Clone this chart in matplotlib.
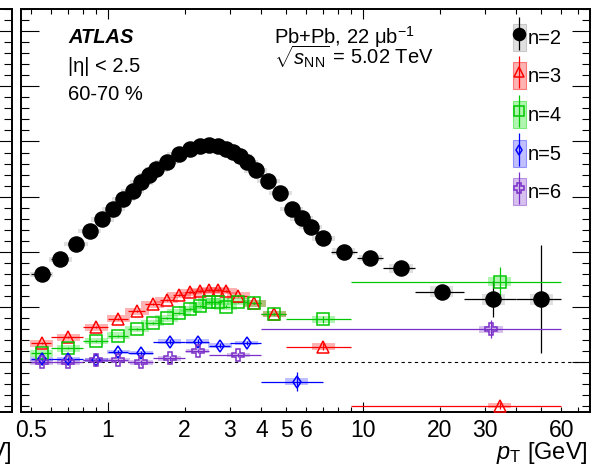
import matplotlib.pyplot as plt
import numpy as np
from matplotlib.container import ErrorbarContainer
from matplotlib.legend_handler import HandlerErrorbar
from matplotlib.patches import Patch
from matplotlib.colors import to_rgba
from matplotlib.ticker import MultipleLocator

plt.rcParams['font.family'] = ['Liberation Sans', 'DejaVu Sans']
plt.rcParams['mathtext.fontset'] = 'custom'
plt.rcParams['mathtext.rm'] = 'Liberation Sans'
plt.rcParams['mathtext.it'] = 'Liberation Sans:italic'
plt.rcParams['mathtext.bf'] = 'Liberation Sans:bold'

# ---------------------------------------------------------------- data
# n=2
v2_pt = [0.55, 0.65, 0.75, 0.85, 0.95, 1.05, 1.15, 1.25, 1.35, 1.45, 1.55, 1.7, 1.9,
         2.1, 2.3, 2.5, 2.7, 2.9, 3.1, 3.3, 3.5, 3.8, 4.25, 4.75, 5.25, 5.75, 6.25,
         7.0, 8.4, 10.7, 14.1, 20.4, 32.4, 50.0]
v2_lo = [0.5, 0.6, 0.7, 0.8, 0.9, 1.0, 1.1, 1.2, 1.3, 1.4, 1.5, 1.6, 1.8,
         2.0, 2.2, 2.4, 2.6, 2.8, 3.0, 3.2, 3.4, 3.6, 4.0, 4.5, 5.0, 5.5, 6.0,
         6.5, 7.5, 9.5, 12.0, 16.0, 25.0, 40.0]
v2_hi = [0.6, 0.7, 0.8, 0.9, 1.0, 1.1, 1.2, 1.3, 1.4, 1.5, 1.6, 1.8, 2.0,
         2.2, 2.4, 2.6, 2.8, 3.0, 3.2, 3.4, 3.6, 4.0, 4.5, 5.0, 5.5, 6.0, 6.5,
         7.5, 9.5, 12.0, 16.0, 25.0, 40.0, 60.0]
v2 = [0.0796, 0.0933, 0.1069, 0.1187, 0.1295, 0.1391, 0.1479, 0.1554, 0.1630, 0.1694,
      0.1748, 0.1814, 0.1884, 0.1932, 0.1962, 0.1971, 0.1959, 0.1932, 0.1905, 0.1871,
      0.1814, 0.1739, 0.1642, 0.1531, 0.1386, 0.1304, 0.1223, 0.1123, 0.1002, 0.0945,
      0.0851, 0.0639, 0.0573, 0.0573]
v2_stat = [0.0005] * 28 + [0.001, 0.002, 0.003, 0.004, 0.016, 0.049]
v2_sys = [0.002] * 28 + [0.003, 0.003, 0.004, 0.005, 0.005, 0.005]

# n=3 and n=4 share bins
v34_pt = [0.55, 0.7, 0.9, 1.1, 1.3, 1.5, 1.7, 1.9, 2.1, 2.3, 2.5, 2.7, 2.9, 3.25, 3.75, 4.5, 7.0, 34.4]
v34_lo = [0.5, 0.6, 0.8, 1.0, 1.2, 1.4, 1.6, 1.8, 2.0, 2.2, 2.4, 2.6, 2.8, 3.0, 3.5, 4.0, 5.0, 9.0]
v34_hi = [0.6, 0.8, 1.0, 1.2, 1.4, 1.6, 1.8, 2.0, 2.2, 2.4, 2.6, 2.8, 3.0, 3.5, 4.0, 5.0, 9.0, 60.0]
v3 = [0.0172, 0.0226, 0.0317, 0.0395, 0.0462, 0.0525, 0.0564, 0.0610, 0.0634, 0.0646,
      0.0655, 0.0655, 0.0646, 0.0603, 0.0534, 0.0438, 0.0141, -0.0393]
v3_stat = [0.001] * 16 + [0.003, 0.003]
v3_sys = [0.003] * 16 + [0.003, 0.002]
v4 = [0.0082, 0.0127, 0.0193, 0.0241, 0.0302, 0.0356, 0.0399, 0.0449, 0.0483, 0.0513,
      0.0549, 0.0549, 0.0505, 0.0549, 0.0534, 0.0438, 0.0390, 0.0730]
v4_stat = [0.001] * 16 + [0.003, 0.0136]
v4_sys = [0.003] * 16 + [0.003, 0.004]

# n=5
v5_pt = [0.55, 0.7, 0.9, 1.1, 1.35, 1.75, 2.25, 2.75, 3.5, 5.5]
v5_lo = [0.5, 0.6, 0.8, 1.0, 1.2, 1.5, 2.0, 2.5, 3.0, 4.0]
v5_hi = [0.6, 0.8, 1.0, 1.2, 1.5, 2.0, 2.5, 3.0, 4.0, 7.0]
v5 = [0.0030, 0.0030, 0.0020, 0.0096, 0.0082, 0.0187, 0.0187, 0.0152, 0.0175, -0.0176]
v5_stat = [0.002] * 9 + [0.0086]
v5_sys = [0.002] * 9 + [0.003]

# n=6
v6_pt = [0.55, 0.7, 0.9, 1.1, 1.35, 1.75, 2.25, 3.25, 31.8]
v6_lo = [0.5, 0.6, 0.8, 1.0, 1.2, 1.5, 2.0, 2.5, 4.0]
v6_hi = [0.6, 0.8, 1.0, 1.2, 1.5, 2.0, 2.5, 4.0, 60.0]
v6 = [0.0, 0.0, 0.002, 0.002, 0.0, 0.0036, 0.0102, 0.0066, 0.0299]
v6_stat = [0.002] * 8 + [0.008]
v6_sys = [0.002] * 8 + [0.003]

series = [
    ('n=2', v2_pt, v2_lo, v2_hi, v2, v2_stat, v2_sys, 'black', '#999999', 'o', 10.8, True),
    ('n=3', v34_pt, v34_lo, v34_hi, v3, v3_stat, v3_sys, '#ff0000', '#ff0000', '^', 8.5, False),
    ('n=4', v34_pt, v34_lo, v34_hi, v4, v4_stat, v4_sys, '#00c800', '#00e000', 's', 9.0, False),
    ('n=5', v5_pt, v5_lo, v5_hi, v5, v5_stat, v5_sys, '#0000ff', '#3030ff', 'd', 6.0, False),
    ('n=6', v6_pt, v6_lo, v6_hi, v6, v6_stat, v6_sys, '#7a2fc8', '#7a2fc8', 'P', 8.5, False),
]

W, H = 605, 475
fig = plt.figure(figsize=(W / 100, H / 100), dpi=100)

# neighbouring panel, only its right edge is in the picture
axL = fig.add_axes([12 / W - 0.9, 63 / H, 0.9, 403 / H])
axL.set_xscale('log')
axL.set_xlim(0.455, 77.7)
axL.set_ylim(-0.045, 0.32)
axL.set_yticks(np.arange(0, 0.31, 0.05))
axL.yaxis.set_minor_locator(MultipleLocator(0.01))
axL.tick_params(which='both', direction='in', left=False, right=True,
                labelleft=False, labelbottom=False, bottom=False, width=0.8)
axL.tick_params(axis='y', which='major', length=13)
axL.tick_params(axis='y', which='minor', length=6)
for s in axL.spines.values():
    s.set_linewidth(1.4)
axL.set_xlabel(r'$p_{\mathrm{T}}$ [GeV]', fontsize=17, loc='right')
axL.xaxis.set_label_coords(1.0, -0.07)

ax = fig.add_axes([20.7 / W, 63 / H, (590 - 20.7) / W, 403 / H])
ax.set_xscale('log')

stretch = 1.11
handles = []
for label, pt, lo, hi, v, stat, sys_, col, scol, mk, ms, filled in series:
    pt = np.array(pt); lo = np.array(lo); hi = np.array(hi)
    v = np.array(v); stat = np.array(stat); sys_ = np.array(sys_)
    ax.bar(pt / stretch, 2 * sys_, width=pt * stretch - pt / stretch, bottom=v - sys_,
           align='edge', color=to_rgba(scol, 0.3), linewidth=0, zorder=2.5)
    eb = ax.errorbar(pt, v, xerr=[pt - lo, hi - pt], yerr=stat, fmt=mk, ms=ms,
                     mfc=col if filled else 'none', mec=col, mew=1.1,
                     ecolor=col, elinewidth=0.9, capsize=0, zorder=3)
    eb[0].set_zorder(4)
    box = Patch(facecolor=to_rgba(scol, 0.3), edgecolor=to_rgba(scol, 0.45), linewidth=0.8)
    handles.append((box, eb))

ax.axhline(0, color='black', lw=0.8, ls=(0, (3, 3)), zorder=1)

ax.set_xlim(0.455, 77.7)
ax.set_ylim(-0.045, 0.32)

minor_pos = [0.5, 0.6, 0.7, 0.8, 0.9, 2, 3, 4, 5, 6, 7, 8, 9, 20, 30, 40, 50, 60, 70]
minor_lab = ['0.5', '', '', '', '', '2', '3', '4', '5', '6', '', '', '', '20', '30', '', '', '60', '']
ax.set_xticks([1, 10], labels=['1', '10'])
ax.set_xticks(minor_pos, labels=minor_lab, minor=True)
ax.set_yticks(np.arange(0, 0.31, 0.05))
ax.yaxis.set_minor_locator(MultipleLocator(0.01))
ax.tick_params(which='both', direction='in', top=True, right=True, width=0.8,
               labelleft=False, labelsize=16.5, pad=5)
ax.tick_params(axis='x', which='major', length=7)
ax.tick_params(axis='x', which='minor', length=3.6)
ax.tick_params(axis='y', which='major', length=13)
ax.tick_params(axis='y', which='minor', length=6)
for s in ax.spines.values():
    s.set_linewidth(1.4)

ax.set_xlabel(r'$p_{\mathrm{T}}$ [GeV]', fontsize=17, loc='right')
ax.xaxis.set_label_coords(0.9965, -0.07)

leg = ax.legend(handles, [s[0] for s in series], loc='upper left',
                bbox_to_anchor=(0.864, 0.964), frameon=False, fontsize=14.5,
                handlelength=0.65, handleheight=1.7, labelspacing=0.57,
                handletextpad=0.12, borderpad=0, borderaxespad=0, numpoints=1,
                markerscale=0.8,
                handler_map={ErrorbarContainer: HandlerErrorbar(xerr_size=0, yerr_size=0.8)})

fig.text(68 / W, 1 - 43.3 / H, 'ATLAS', fontsize=14.5, weight='bold', style='italic', va='baseline')
fig.text(68 / W, 1 - 71.7 / H, '|η| < 2.5', fontsize=14.5, va='baseline')
fig.text(68 / W, 1 - 100 / H, '60-70 %', fontsize=14.5, va='baseline')
fig.text(274 / W, 1 - 43.3 / H, r'Pb+Pb, 22 μb$^{-1}$', fontsize=14.5, va='baseline')
fig.text(274 / W, 1 - 64.5 / H, r'$\sqrt{s_{\mathrm{NN}}}$ = 5.02 TeV', fontsize=14.5, va='baseline')

fig.savefig('out.png', dpi=100)
